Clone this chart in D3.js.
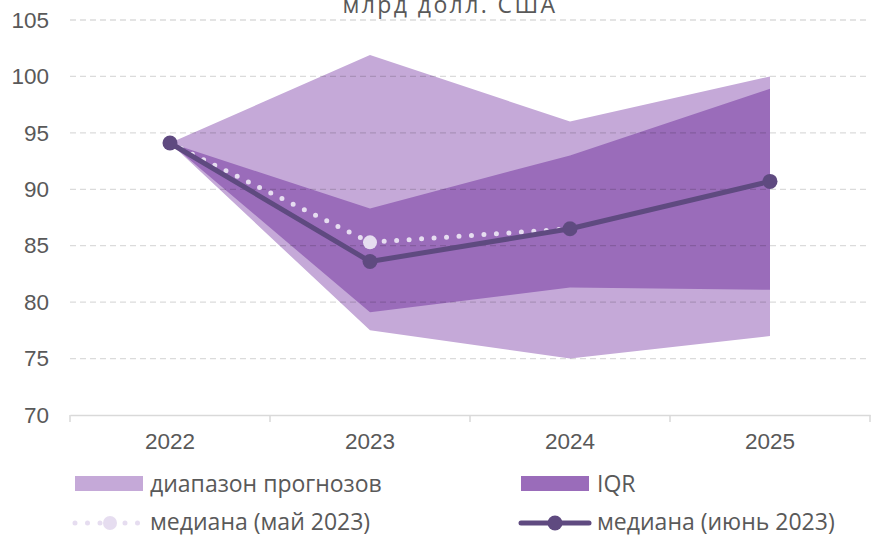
<!DOCTYPE html>
<html>
<head>
<meta charset="utf-8">
<script src="https://cdn.jsdelivr.net/npm/d3@7"></script>
<style>
  body { margin: 0; background: #fff; }
  svg { display: block; font-family: "Liberation Sans", Arial, sans-serif; }
</style>
</head>
<body>
<svg width="871" height="536"></svg>
<script>
// data
const years = ["2022", "2023", "2024", "2025"];
const rangeLow = [94.1, 77.5, 75.0, 77.0];
const rangeHigh = [94.1, 101.9, 96.0, 100.0];
const iqrLow = [94.1, 79.1, 81.3, 81.1];
const iqrHigh = [94.1, 88.3, 93.0, 98.9];
const medianMay = [94.1, 85.3, 86.5, null];
const medianJune = [94.1, 83.6, 86.5, 90.7];
const yTicks = [70, 75, 80, 85, 90, 95, 100, 105];

const svg = d3.select("svg");
const margin = { top: 20, right: 1, bottom: 121, left: 70 };
const width = 871 - margin.left - margin.right;
const height = 536 - margin.top - margin.bottom;

const g = svg.append("g")
    .attr("transform", "translate(" + margin.left + "," + margin.top + ")");

const x = d3.scaleBand().domain(years).range([0, 800]);
const cx = function(i) { return x(years[i]) + x.bandwidth() / 2; };
const y = d3.scaleLinear().domain([70, 105]).range([height, 0]);

// title (cut off at the top in the original)
svg.append("text")
    .attr("x", 450).attr("y", 13)
    .attr("text-anchor", "middle")
    .attr("font-family", "Open Sans, Noto Sans, sans-serif")
    .attr("font-size", 23)
    .attr("fill", "#595959")
    .attr("letter-spacing", 2.4)
    .text("млрд долл. США");

const band = function(lo, hi) {
    return d3.area()
        .x(function(d, i) { return cx(i); })
        .y0(function(d, i) { return y(lo[i]); })
        .y1(function(d, i) { return y(hi[i]); });
};

g.append("path").datum(years)
    .attr("fill", "#c5a9d8")
    .attr("d", band(rangeLow, rangeHigh));

g.append("path").datum(years)
    .attr("fill", "#9a6cba")
    .attr("d", band(iqrLow, iqrHigh));

// gridlines over the areas
g.append("g").selectAll("line")
    .data(yTicks.filter(function(t) { return t > 70; }))
    .join("line")
    .attr("x1", 0).attr("x2", 800)
    .attr("y1", function(d) { return y(d); })
    .attr("y2", function(d) { return y(d); })
    .attr("stroke", "rgba(0,0,0,0.14)")
    .attr("stroke-width", 1.3)
    .attr("stroke-dasharray", "6 4");

// y axis labels
const yAxis = g.append("g")
    .call(d3.axisLeft(y).tickValues(yTicks).tickSize(0).tickPadding(21));
yAxis.select(".domain").remove();
yAxis.selectAll("text")
    .attr("font-size", 22.5)
    .attr("fill", "#595959")
    .attr("font-family", "Liberation Sans, Arial, sans-serif");

// x axis
const xAxis = g.append("g")
    .attr("transform", "translate(0," + height + ")")
    .call(d3.axisBottom(x).tickSize(0).tickPadding(18));
xAxis.select(".domain").attr("stroke", "#d9d9d9").attr("stroke-width", 1.5);
xAxis.selectAll("text")
    .attr("font-size", 22.5)
    .attr("fill", "#595959")
    .attr("font-family", "Liberation Sans, Arial, sans-serif");
xAxis.selectAll(".sep")
    .data([0, 200, 400, 600, 800])
    .join("line")
    .attr("class", "sep")
    .attr("x1", function(d) { return d; }).attr("x2", function(d) { return d; })
    .attr("y1", 0).attr("y2", 7)
    .attr("stroke", "#d9d9d9").attr("stroke-width", 1.5);

// median May 2023 (dotted)
const mayLine = d3.line()
    .defined(function(d) { return d != null; })
    .x(function(d, i) { return cx(i); })
    .y(function(d) { return y(d); });

g.append("path").datum(medianMay)
    .attr("fill", "none")
    .attr("stroke", "#e6ddf0")
    .attr("stroke-width", 5)
    .attr("stroke-linecap", "round")
    .attr("stroke-dasharray", "0 12.5")
    .attr("d", mayLine);

g.selectAll(".may-dot")
    .data(medianMay.map(function(v, i) { return { v: v, i: i }; })
        .filter(function(d) { return d.v != null; }))
    .join("circle")
    .attr("class", "may-dot")
    .attr("cx", function(d) { return cx(d.i); })
    .attr("cy", function(d) { return y(d.v); })
    .attr("r", 7)
    .attr("fill", "#e6ddf0");

// median June 2023
const juneLine = d3.line()
    .x(function(d, i) { return cx(i); })
    .y(function(d) { return y(d); });

g.append("path").datum(medianJune)
    .attr("fill", "none")
    .attr("stroke", "#5f4a80")
    .attr("stroke-width", 5)
    .attr("stroke-linejoin", "round")
    .attr("d", juneLine);

g.selectAll(".june-dot")
    .data(medianJune)
    .join("circle")
    .attr("class", "june-dot")
    .attr("cx", function(d, i) { return cx(i); })
    .attr("cy", function(d) { return y(d); })
    .attr("r", 7.5)
    .attr("fill", "#5f4a80");

// legend
const legend = svg.append("g")
    .attr("font-family", "Open Sans, Noto Sans, sans-serif")
    .attr("font-size", 23)
    .attr("fill", "#595959");

legend.append("rect").attr("x", 75).attr("y", 476).attr("width", 68).attr("height", 15).attr("fill", "#c5a9d8");
legend.append("text").attr("x", 150).attr("y", 492).text("диапазон прогнозов");

legend.append("rect").attr("x", 521).attr("y", 476).attr("width", 68).attr("height", 15).attr("fill", "#9a6cba");
legend.append("text").attr("x", 597).attr("y", 492).text("IQR");

legend.append("line")
    .attr("x1", 75).attr("x2", 138).attr("y1", 523).attr("y2", 523)
    .attr("stroke", "#e6ddf0").attr("stroke-width", 5)
    .attr("stroke-linecap", "round").attr("stroke-dasharray", "0 12.5");
legend.append("circle").attr("cx", 110).attr("cy", 523).attr("r", 7).attr("fill", "#e6ddf0");
legend.append("text").attr("x", 150).attr("y", 529.5).text("медиана (май 2023)");

legend.append("line")
    .attr("x1", 521).attr("x2", 589).attr("y1", 523).attr("y2", 523)
    .attr("stroke", "#5f4a80").attr("stroke-width", 5).attr("stroke-linecap", "round");
legend.append("circle").attr("cx", 555).attr("cy", 523).attr("r", 7.5).attr("fill", "#5f4a80");
legend.append("text").attr("x", 597).attr("y", 529.5).text("медиана (июнь 2023)");
</script>
</body>
</html>
